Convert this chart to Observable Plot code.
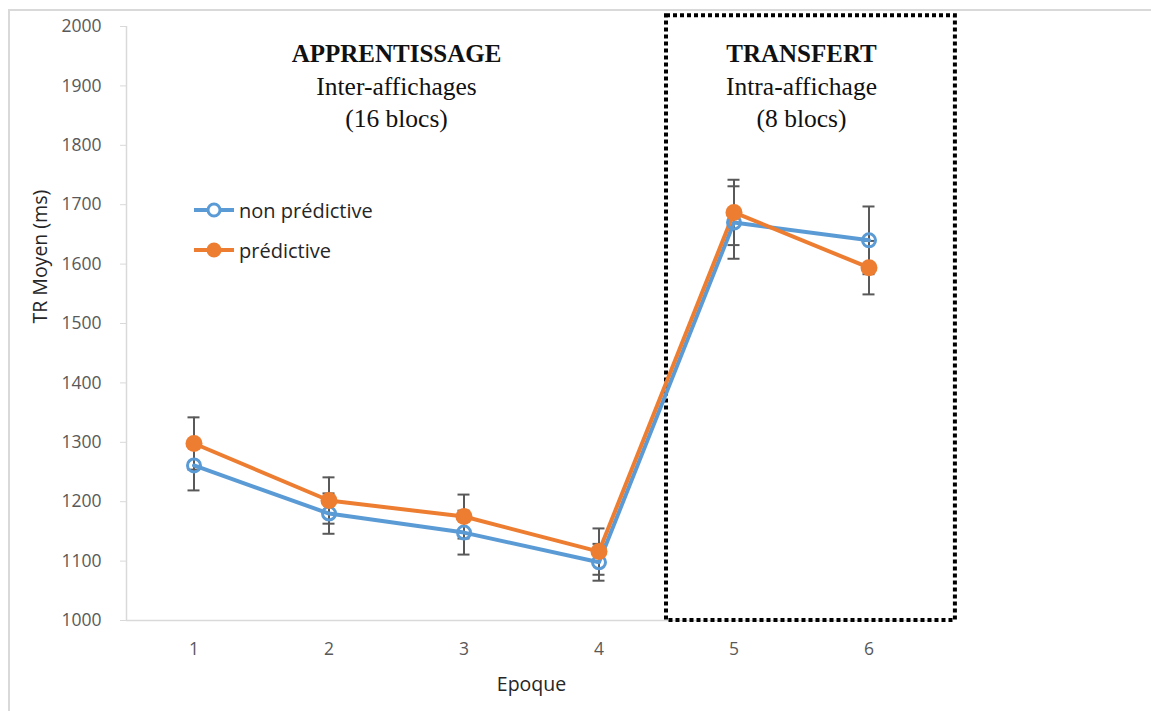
<!DOCTYPE html>
<html>
<head>
<meta charset="utf-8">
<script src="https://cdn.jsdelivr.net/npm/d3@7"></script>
<script src="https://cdn.jsdelivr.net/npm/@observablehq/plot@0.6"></script>
<style>
  html, body { margin: 0; padding: 0; background: #fff; }
  #wrap { position: relative; width: 1151px; height: 711px; overflow: hidden; }
  #frame { position: absolute; left: 8px; top: 9px; width: 1200px; height: 800px; border-left: 2px solid #d9d9d9; border-top: 2px solid #d9d9d9; box-sizing: border-box; pointer-events: none; }
  #chart { position: absolute; left: 0; top: 0; }
  #legend { position: absolute; left: 193px; top: 190px; font-family: "Open Sans", sans-serif; font-size: 20px; color: #262626; }
  .row { display: flex; align-items: center; height: 40px; }
  .row svg { margin-right: 4px; }
</style>
</head>
<body>
<div id="wrap">
  <div id="frame"></div>
  <div id="chart"></div>
  <div id="legend"></div>
</div>
<script>
// ---- data ----
const epochs = [1, 2, 3, 4, 5, 6];
const nonPredictive = [1261, 1180, 1148, 1098, 1670, 1640];
const nonPredictiveErr = [42, 34, 37, 31, 61, 57];
const predictive = [1298, 1202, 1175, 1116, 1687, 1594];
const predictiveErr = [44, 39, 37, 39, 55, 45];
const seriesNames = ["non prédictive", "prédictive"];
const yTicks = [1000, 1100, 1200, 1300, 1400, 1500, 1600, 1700, 1800, 1900, 2000];
const phaseX = [2.5, 5.5];
const phaseTitles = ["APPRENTISSAGE", "TRANSFERT"];
const phaseLine1 = ["Inter-affichages", "Intra-affichage"];
const phaseLine2 = ["(16 blocs)", "(8 blocs)"];
const transferBox = [{x1: 4.5, x2: 6.64, y1: 1000, y2: 2018}];
const yLabel = "TR Moyen (ms)";
const xLabel = "Epoque";

const colors = ["#5B9BD5", "#ED7D31"];

const rows = [];
epochs.forEach((e, i) => {
  rows.push({epoch: e, series: seriesNames[0], v: nonPredictive[i], err: nonPredictiveErr[i]});
  rows.push({epoch: e, series: seriesNames[1], v: predictive[i], err: predictiveErr[i]});
});
const blue = rows.filter(d => d.series === seriesNames[0]);
const orange = rows.filter(d => d.series === seriesNames[1]);
const phases = phaseX.map((x, i) => ({x, t: phaseTitles[i], l1: phaseLine1[i], l2: phaseLine2[i]}));

const errColor = "#595959";
const serif = "'Liberation Serif', 'Times New Roman', serif";

const chart = Plot.plot({
  width: 1151,
  height: 711,
  marginLeft: 126,
  marginRight: 215,
  marginTop: 26,
  marginBottom: 91,
  style: {fontFamily: "'Open Sans', sans-serif", background: "transparent", overflow: "visible"},
  x: {type: "linear", domain: [0.5, 6.5]},
  y: {domain: [1000, 2000]},
  marks: [
    // axes
    Plot.ruleX([0.5], {y1: 1000, y2: 2000, stroke: "#d9d9d9", strokeWidth: 1.5}),
    Plot.ruleY([1000], {x1: 0.5, x2: 6.5, stroke: "#d9d9d9", strokeWidth: 1.5}),
    Plot.axisY(yTicks, {tickSize: 6, tickPadding: 19, tickFormat: "d", stroke: "#d9d9d9", fill: "#595959", fontSize: 17.5, label: null}),
    Plot.axisX(epochs, {tickSize: 0, tickPadding: 22, tickFormat: "d", fill: "#595959", fontSize: 17.5, label: null}),
    Plot.text([yLabel], {frameAnchor: "left", rotate: -90, dx: -86, fontSize: 19.5, fill: "#262626"}),
    Plot.text([xLabel], {frameAnchor: "bottom", dy: 70, fontSize: 19.5, fill: "#262626"}),
    // transfer box
    Plot.rect(transferBox, {x1: "x1", x2: "x2", y1: "y1", y2: "y2", fill: "none", stroke: "black", strokeWidth: 4, strokeDasharray: "4 3", clip: false}),
    // phase labels
    Plot.text(phases, {x: "x", frameAnchor: "top", text: "t", lineAnchor: "bottom", dy: 35, fontFamily: serif, fontWeight: "bold", fontSize: 25, fill: "#111"}),
    Plot.text(phases, {x: "x", frameAnchor: "top", text: "l1", lineAnchor: "bottom", dy: 68, fontFamily: serif, fontSize: 25.5, fill: "#111"}),
    Plot.text(phases, {x: "x", frameAnchor: "top", text: "l2", lineAnchor: "bottom", dy: 100, fontFamily: serif, fontSize: 25.5, fill: "#111"}),
    // error bars
    Plot.ruleX(rows, {x: "epoch", y1: d => d.v - d.err, y2: d => d.v + d.err, stroke: errColor, strokeWidth: 2}),
    Plot.ruleY(rows, {y: d => d.v - d.err, x1: "epoch", x2: "epoch", insetLeft: -6, insetRight: -6, stroke: errColor, strokeWidth: 2}),
    Plot.ruleY(rows, {y: d => d.v + d.err, x1: "epoch", x2: "epoch", insetLeft: -6, insetRight: -6, stroke: errColor, strokeWidth: 2}),
    // lines
    Plot.lineY(blue, {x: "epoch", y: "v", stroke: colors[0], strokeWidth: 4}),
    Plot.lineY(orange, {x: "epoch", y: "v", stroke: colors[1], strokeWidth: 4}),
    // markers
    Plot.dot(blue, {x: "epoch", y: "v", r: 6.5, fill: "white", fillOpacity: 0, stroke: colors[0], strokeWidth: 3}),
    Plot.dot(orange, {x: "epoch", y: "v", r: 8.5, fill: colors[1], stroke: colors[1], strokeWidth: 0})
  ]
});
document.getElementById("chart").appendChild(chart);

// legend
const legend = document.getElementById("legend");
seriesNames.forEach((name, i) => {
  const row = document.createElement("div");
  row.className = "row";
  const filled = i === 1;
  row.innerHTML = `<svg width="42" height="20"><line x1="1" x2="41" y1="10" y2="10" stroke="${colors[i]}" stroke-width="4"/>` +
    (filled ? `<circle cx="21" cy="10" r="7.5" fill="${colors[i]}"/>`
            : `<circle cx="21" cy="10" r="6" fill="white" stroke="${colors[i]}" stroke-width="3"/>`) +
    `</svg><span>${name}</span>`;
  legend.appendChild(row);
});
</script>
</body>
</html>
